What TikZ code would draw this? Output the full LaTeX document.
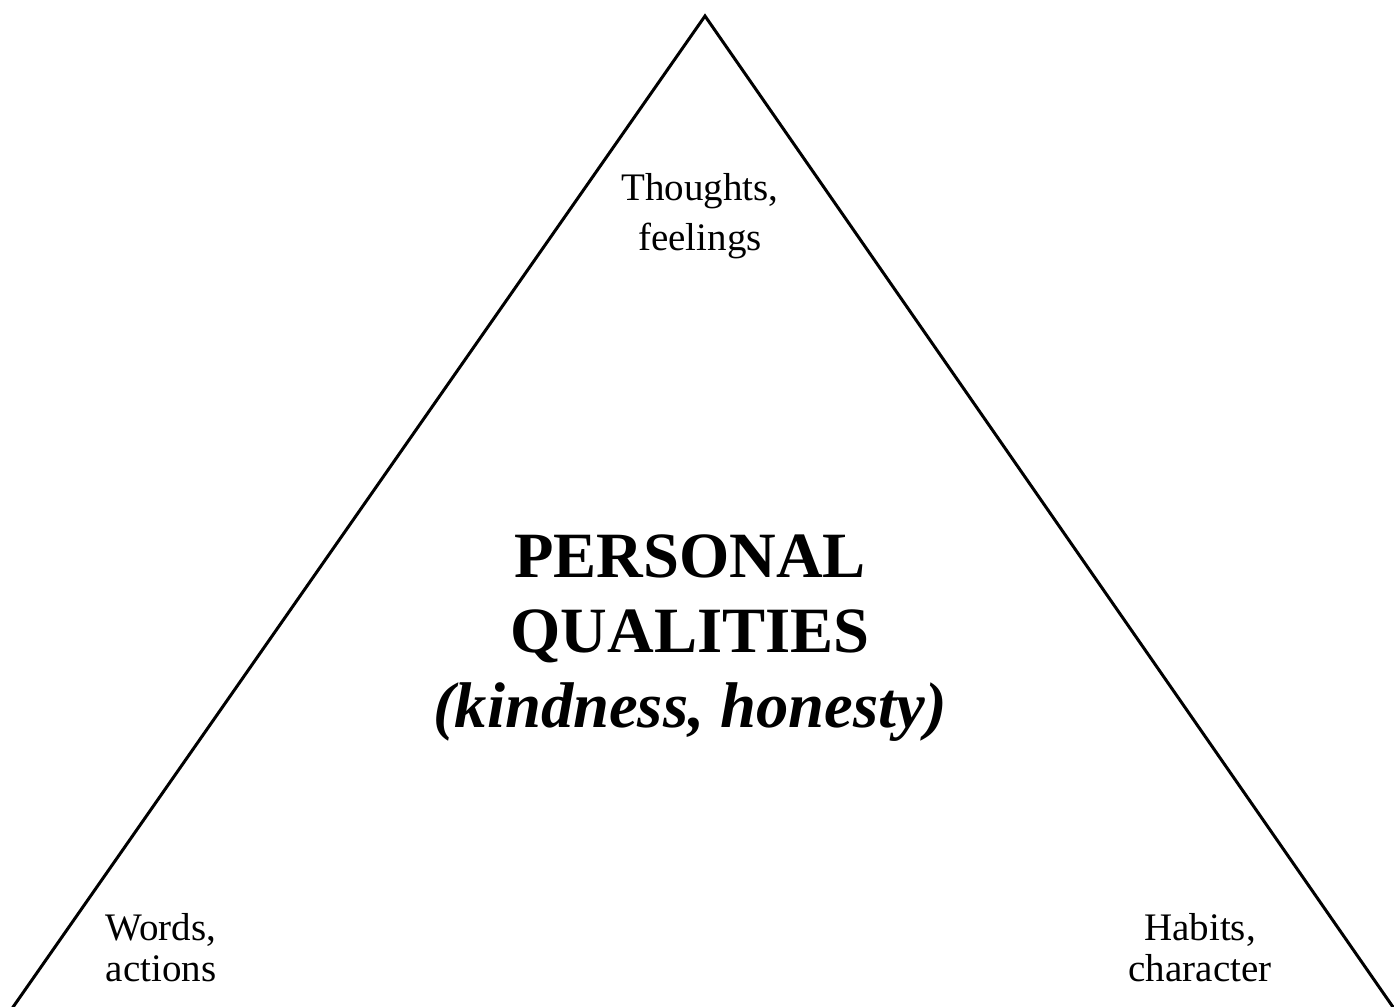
\documentclass[tikz,border=0pt]{standalone}
\usepackage{fontspec}
\setmainfont{Liberation Serif}
\begin{document}
\begin{tikzpicture}[x=0.5pt,y=-0.5pt,
  edge/.style={line width=1.5pt,line join=miter},
  small/.style={align=center,inner sep=0pt,anchor=base,font=\fontsize{19.5}{25}\selectfont},
  smallb/.style={small,font=\fontsize{19.5}{20.5}\selectfont},
  big/.style={align=center,inner sep=0pt,anchor=base,font=\fontsize{32.3}{37.5}\selectfont\bfseries}]
\useasboundingbox (0,0) rectangle (1394,1007);
\clip (0,0) rectangle (1394,1007);
\fill[white] (0,0) rectangle (1394,1007);
\coordinate (A) at (705,16);
\coordinate (L) at (4,1020);
\coordinate (R) at (1402,1020);
\draw[edge] (L) -- (A) -- (R);
\node[small] (top) at (700,250) {Thoughts,\\feelings};
\node[smallb] (left) at (161,981) {Words,\\actions};
\node[smallb] (right) at (1200,981) {Habits,\\character};
\node[big] (mid) at (690,727) {PERSONAL\\QUALITIES\\\textit{(kindness, honesty)}};
\end{tikzpicture}
\end{document}
